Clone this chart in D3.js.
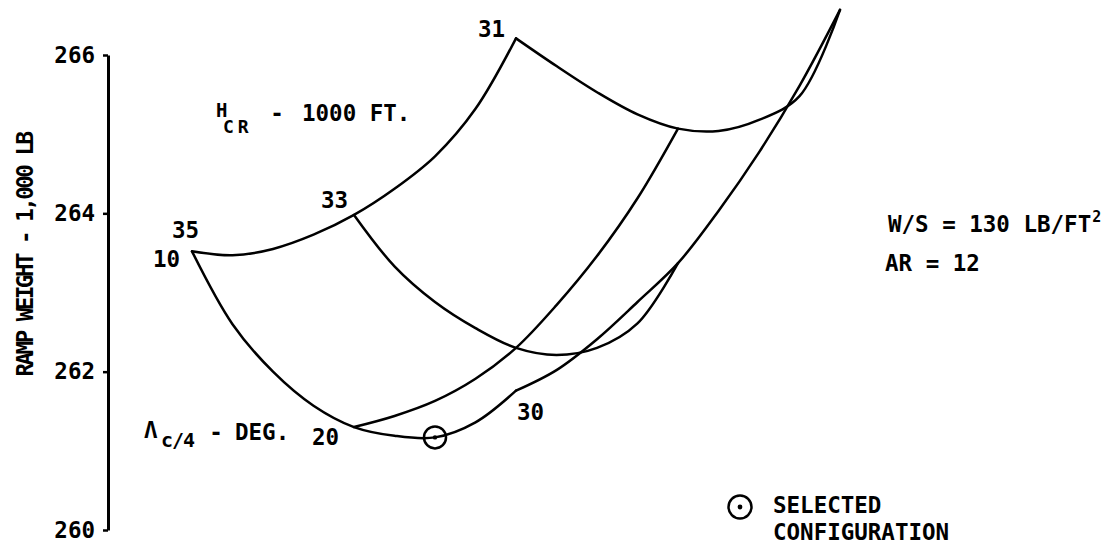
<!DOCTYPE html>
<html>
<head>
<meta charset="utf-8">
<script src="https://cdn.jsdelivr.net/npm/d3@7"></script>
<style>
  html, body { margin: 0; padding: 0; background: #fff; }
  svg { display: block; }
  text { font-family: "DejaVu Sans Mono", monospace; font-weight: bold; fill: #000; font-size: 22.5px; }
</style>
</head>
<body>
<svg id="chart" width="1116" height="545"></svg>
<script>
// Ramp weight carpet: cruise altitude (1000 ft) x quarter-chord sweep (deg)
const sweepSteps = [10, 12.5, 15, 17.5, 20, 22.5, 25, 27.5, 30];
const altSteps   = [35, 34.5, 34, 33.5, 33, 32.5, 32, 31.5, 31];

// constant-altitude lines, weight (1,000 lb) at each sweepSteps value
const altitudes   = [35, 33, 31];
const weightAlt35 = [263.52, 262.60, 262.00, 261.57, 261.30, 261.19, 261.17, 261.36, 261.76];
const weightAlt33 = [263.98, 263.33, 262.88, 262.55, 262.30, 262.21, 262.30, 262.61, 263.37];
const weightAlt31 = [266.21, 265.86, 265.53, 265.25, 265.07, 265.04, 265.18, 265.48, 266.57];

// constant-sweep lines, weight (1,000 lb) at each altSteps value
const sweeps        = [10, 20, 30];
const weightSweep10 = [263.52, 263.47, 263.55, 263.73, 263.98, 264.31, 264.72, 265.32, 266.21];
const weightSweep20 = [261.30, 261.44, 261.63, 261.91, 262.30, 262.84, 263.46, 264.19, 265.07];
const weightSweep30 = [261.76, 262.02, 262.41, 262.88, 263.37, 264.03, 264.77, 265.61, 266.57];

const yTicks = [260, 262, 264, 266];
const selected = { alt: 35, sweep: 25, weight: 261.17 };

const svg = d3.select("#chart");

// carpet abscissa: one grid step per 10 deg of sweep and per 2000 ft of altitude
const carpet = (alt, sweep) => (sweep - 10) / 10 + (35 - alt) / 2;
const x = d3.scaleLinear().domain([0, 4]).range([192, 840]);
const y = d3.scaleLinear().domain([260, 266]).range([530, 55]);

const line = d3.line()
  .x(d => x(carpet(d.alt, d.sweep)))
  .y(d => y(d.w))
  .curve(d3.curveCatmullRom.alpha(0.5));

const altSeries = [weightAlt35, weightAlt33, weightAlt31].map((ws, i) =>
  ws.map((w, j) => ({ alt: altitudes[i], sweep: sweepSteps[j], w })));
const sweepSeries = [weightSweep10, weightSweep20, weightSweep30].map((ws, i) =>
  ws.map((w, j) => ({ alt: altSteps[j], sweep: sweeps[i], w })));

const curves = svg.append("g")
  .attr("fill", "none").attr("stroke", "#000")
  .attr("stroke-width", 2.5).attr("stroke-linejoin", "round").attr("stroke-linecap", "round");
curves.selectAll("path.alt").data(altSeries).join("path").attr("class", "alt").attr("d", line);
curves.selectAll("path.sweep").data(sweepSeries).join("path").attr("class", "sweep").attr("d", line);

// y axis
const axis = svg.append("g")
  .attr("transform", "translate(108,0)")
  .call(d3.axisLeft(y).tickValues(yTicks).tickFormat(d3.format("d"))
    .tickSize(5).tickPadding(8).tickSizeOuter(0));
axis.select(".domain").attr("stroke", "#000").attr("stroke-width", 3);
axis.selectAll(".tick line").attr("stroke", "#000").attr("stroke-width", 2.5);
axis.selectAll(".tick text")
  .style("font-family", "'DejaVu Sans Mono', monospace").style("font-weight", "bold")
  .style("font-size", "22.5px").attr("fill", "#000");

svg.append("text")
  .attr("transform", "translate(33,255) rotate(-90)")
  .attr("text-anchor", "middle")
  .style("letter-spacing", "-2.5px")
  .text("RAMP WEIGHT - 1,000 LB");

// grid labels
const pt = (alt, sweep) => {
  const d = altSeries[altitudes.indexOf(alt)][sweepSteps.indexOf(sweep)];
  return [x(carpet(alt, sweep)), y(d.w)];
};
const altLabelPos = { 35: [-20, -13, "start"], 33: [-6, -7, "end"], 31: [-11, -1, "end"] };
altitudes.forEach(a => {
  const [px, py] = pt(a, 10);
  const [dx, dy, anchor] = altLabelPos[a];
  svg.append("text").attr("x", px + dx).attr("y", py + dy)
    .attr("text-anchor", anchor).text(a);
});
const sweepLabelPos = { 10: [-39, 16], 20: [-42, 18], 30: [1, 29] };
sweeps.forEach(s => {
  const [px, py] = pt(35, s);
  const [dx, dy] = sweepLabelPos[s];
  svg.append("text").attr("x", px + dx).attr("y", py + dy).text(s);
});

// family titles
svg.append("text").attr("x", 216).attr("y", 117).style("font-size", "19px").text("H");
svg.append("text").attr("x", 223).attr("y", 133).style("font-size", "18px")
  .style("letter-spacing", "4px").text("CR");
svg.append("text").attr("x", 277).attr("y", 121).attr("text-anchor", "middle").text("-");
svg.append("text").attr("x", 302).attr("y", 121).text("1000 FT.");

svg.append("text").attr("x", 144).attr("y", 438).text("\u039B");
svg.append("text").attr("x", 161).attr("y", 447).style("font-size", "20px")
  .style("letter-spacing", "-1px").text("c/4");
svg.append("text").attr("x", 216).attr("y", 440).attr("text-anchor", "middle").text("-");
svg.append("text").attr("x", 235).attr("y", 440).text("DEG.");

// design constants
const ws = svg.append("text").attr("x", 888).attr("y", 232).text("W/S = 130 LB/FT");
ws.append("tspan").attr("dy", -10).attr("dx", 1).style("font-size", "15px").text("2");
svg.append("text").attr("x", 885).attr("y", 271).text("AR = 12");

// selected configuration marker
const sx = x(carpet(selected.alt, selected.sweep)), sy = y(selected.weight);
svg.append("circle").attr("cx", sx).attr("cy", sy).attr("r", 11)
  .attr("fill", "none").attr("stroke", "#000").attr("stroke-width", 2.5);
svg.append("circle").attr("cx", sx).attr("cy", sy).attr("r", 2.2).attr("fill", "#000");

// legend
svg.append("circle").attr("cx", 740).attr("cy", 507).attr("r", 11.5)
  .attr("fill", "none").attr("stroke", "#000").attr("stroke-width", 2.5);
svg.append("circle").attr("cx", 740).attr("cy", 507).attr("r", 2.4).attr("fill", "#000");
svg.append("text").attr("x", 773).attr("y", 513).text("SELECTED");
svg.append("text").attr("x", 773).attr("y", 540).text("CONFIGURATION");
</script>
</body>
</html>
